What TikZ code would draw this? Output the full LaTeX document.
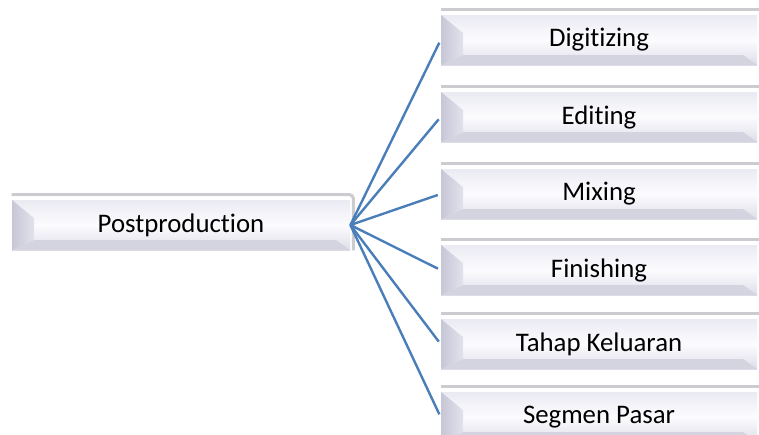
\documentclass[tikz,border=0pt]{standalone}
\usepackage{fontspec}
\setmainfont[Ligatures=NoCommon]{Carlito}
\usetikzlibrary{positioning}

\definecolor{linkblue}{RGB}{74,126,184}
\definecolor{bvtop}{RGB}{234,234,242}
\definecolor{bvmid}{RGB}{252,252,255}
\definecolor{bvbot}{RGB}{222,222,232}
\definecolor{bvband}{RGB}{212,212,224}
\definecolor{bvleft}{RGB}{198,198,214}
\definecolor{bvleftin}{RGB}{226,226,236}
\definecolor{rimgray}{RGB}{204,204,208}

\begin{document}
\begin{tikzpicture}
[x=0.5pt,y=-0.5pt,
 box/.style={shape=rectangle,inner sep=0pt,minimum height=25pt,
   top color=bvtop,bottom color=bvbot,middle color=bvmid,
   font=\fontsize{13.4}{15}\selectfont,
   path picture={
     \fill[bvband] (path picture bounding box.south west) -- ++(11pt,5pt)
       -- ([xshift=-7pt,yshift=5pt]path picture bounding box.south east)
       -- (path picture bounding box.south east) -- cycle;
     \shade[left color=bvleft,right color=bvleftin]
       (path picture bounding box.north west) -- ++(11pt,-9pt)
       -- ([xshift=11pt,yshift=5pt]path picture bounding box.south west)
       -- (path picture bounding box.south west) -- cycle;}},
 postbox/.style={box,minimum width=169pt},
 stagebox/.style={box,minimum width=158pt},
 rim/.style={draw=rimgray,line width=1.5pt,rounded corners=2pt},
 link/.style={draw=linkblue,line width=1.2pt,shorten >=1.5pt}]

\useasboundingbox (0,0) rectangle (759,434);
\clip (0,0) rectangle (759,434);

% left box
\node (post) [postbox] at (181,225) {Postproduction};
\draw [rim] ([yshift=2.5pt]post.north west) -- ([xshift=1.5pt,yshift=2.5pt]post.north east)
	-- ([xshift=1.5pt]post.south east);

% stages
\node (s1) [stagebox] at (599,40) {Digitizing};
\node (s2) [stagebox] at (599,117) {Editing};
\node (s3) [stagebox] at (599,194) {Mixing};
\node (s4) [stagebox] at (599,270) {Finishing};
\node (s5) [stagebox] at (599,344) {Tahap Keluaran};
\node (s6) [stagebox] at (599,417) {Segmen Pasar};

\foreach \s in {s1,s2,s3,s4,s5,s6}
	\draw [rim] ([yshift=2.5pt]\s.north west) -- ([xshift=1.5pt,yshift=2.5pt]\s.north east);

\foreach \s in {s1,s2,s3,s4,s5,s6}
	\draw [link] (post.east) -- (\s.west);
\end{tikzpicture}
\end{document}
